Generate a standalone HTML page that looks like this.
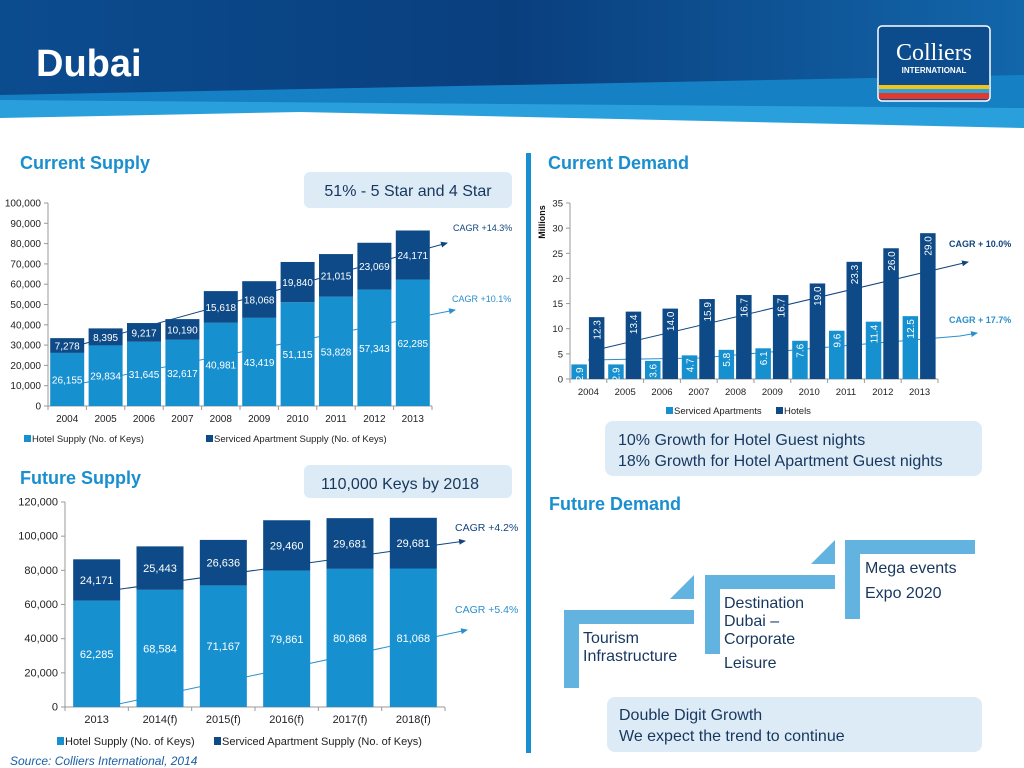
<!DOCTYPE html>
<html><head><meta charset="utf-8"><style>
body{margin:0;width:1024px;height:768px;overflow:hidden;background:#fff;font-family:"Liberation Sans",sans-serif}
svg{display:block}
</style></head><body>
<svg id="s" width="1024" height="768" viewBox="0 0 1024 768" font-family="Liberation Sans, sans-serif">
<defs>
<linearGradient id="hg" x1="0" y1="0" x2="1" y2="0"><stop offset="0" stop-color="#0b4c8f"/><stop offset="0.5" stop-color="#0a3f7e"/><stop offset="1" stop-color="#1266aa"/></linearGradient>
<marker id="ad" markerWidth="8" markerHeight="8" refX="6" refY="3" orient="auto"><path d="M0,0 L7,3 L0,6 Z" fill="#12457e"/></marker>
<marker id="al" markerWidth="8" markerHeight="8" refX="6" refY="3" orient="auto"><path d="M0,0 L7,3 L0,6 Z" fill="#2a8fcc"/></marker>
</defs>
<g>
<rect x="0" y="0" width="1024" height="130" fill="url(#hg)"/>
<polygon points="0,95 1024,75 1024,130 0,130" fill="#1580c4"/>
<polygon points="0,100 1024,108 1024,130 0,130" fill="#29a0dc"/>
<polygon points="0,118 300,112 1024,128 1024,140 0,140" fill="#fff"/>
<text x="36" y="76" fill="#fff" font-size="38" font-weight="bold">Dubai</text>
<g>
<rect x="878" y="26" width="112" height="75" rx="4" fill="#0d4c8c" stroke="#fff" stroke-width="1.5"/>
<text x="934" y="60" fill="#fff" font-size="24" font-family="Liberation Serif, serif" text-anchor="middle">Colliers</text>
<text x="934" y="73" fill="#fff" font-size="8" text-anchor="middle" font-weight="bold">INTERNATIONAL</text>
<rect x="879" y="85" width="110" height="4" fill="#f2c41a"/><rect x="879" y="89" width="110" height="4" fill="#2ea3d9"/><rect x="879" y="93" width="110" height="6" fill="#e0392f"/>
</g></g>
<rect x="526" y="153" width="5" height="600" fill="#1a8fd0"/>
<g font-weight="bold" font-size="18" fill="#1a8fd0">
<text x="20" y="169">Current Supply</text>
<text x="20" y="484">Future Supply</text>
<text x="548" y="169">Current Demand</text>
<text x="549" y="510">Future Demand</text>
</g>
<g font-size="16" fill="#17375e">
<rect x="304" y="172" width="208" height="36" rx="6" fill="#dcebf6"/>
<text x="408" y="196" text-anchor="middle">51% - 5 Star and 4 Star</text>
<rect x="304" y="465" width="208" height="33" rx="6" fill="#dcebf6"/>
<text x="400" y="489" text-anchor="middle">110,000 Keys by 2018</text>
<rect x="605" y="421" width="377" height="55" rx="8" fill="#dcebf6"/>
<text x="618" y="445">10% Growth for Hotel Guest nights</text>
<text x="618" y="466">18% Growth for Hotel Apartment Guest nights</text>
<rect x="607" y="697" width="375" height="55" rx="8" fill="#dcebf6"/>
<text x="619" y="720">Double Digit Growth</text>
<text x="619" y="741">We expect the trend to continue</text>
</g>
<g fill="#62b3e0">
<rect x="564" y="610" width="15" height="78"/><rect x="564" y="610" width="130" height="14"/><polygon points="670,599 694,575 694,599"/>
<rect x="705" y="575" width="15" height="79"/><rect x="705" y="575" width="130" height="14"/><polygon points="811,564 835,540 835,564"/>
<rect x="845" y="540" width="15" height="79"/><rect x="845" y="540" width="130" height="14"/>
</g>
<g font-size="16" fill="#17375e">
<text x="583" y="643">Tourism</text><text x="583" y="661">Infrastructure</text>
<text x="724" y="608">Destination</text><text x="724" y="626">Dubai –</text><text x="724" y="644">Corporate</text><text x="724" y="668">Leisure</text>
<text x="865" y="573">Mega events</text><text x="865" y="598">Expo 2020</text>
</g>
<text x="10" y="765" font-size="12" font-style="italic" fill="#1a5fa8">Source: Colliers International, 2014</text>
<g id="c1"></g>
<g id="c2"></g>
<g id="c3"></g>
</svg>
<script>
const years1=["2004","2005","2006","2007","2008","2009","2010","2011","2012","2013"];
const hotel1=[26155,29834,31645,32617,40981,43419,51115,53828,57343,62285];
const apt1=[7278,8395,9217,10190,15618,18068,19840,21015,23069,24171];
const ticks1=[0,10000,20000,30000,40000,50000,60000,70000,80000,90000,100000];
const years2=["2004","2005","2006","2007","2008","2009","2010","2011","2012","2013"];
const svcApt2=[2.9,2.9,3.6,4.7,5.8,6.1,7.6,9.6,11.4,12.5];
const hotels2=[12.3,13.4,14.0,15.9,16.7,16.7,19.0,23.3,26.0,29.0];
const ticks2=[0,5,10,15,20,25,30,35];
const years3=["2013","2014(f)","2015(f)","2016(f)","2017(f)","2018(f)"];
const hotel3=[62285,68584,71167,79861,80868,81068];
const apt3=[24171,25443,26636,29460,29681,29681];
const ticks3=[0,20000,40000,60000,80000,100000,120000];
const LIGHT="#1790d0",DARK="#0d4a87",NS="http://www.w3.org/2000/svg";
const fmt=v=>v.toLocaleString("en-US");
function mk(p,tag,a,txt){const e=document.createElementNS(NS,tag);for(const k in a)e.setAttribute(k,a[k]);if(txt!==undefined)e.textContent=txt;p.appendChild(e);return e;}
function axes(g,x0,x1,y0,yS,ticks,cats,fs,lblY,tickFmt){
  mk(g,"line",{x1:x0,y1:y0,x2:x1,y2:y0,stroke:"#999"});
  const top=yS(ticks[ticks.length-1]);
  mk(g,"line",{x1:x0,y1:y0,x2:x0,y2:top,stroke:"#999"});
  ticks.forEach(t=>{const y=yS(t);mk(g,"line",{x1:x0-4,y1:y,x2:x0,y2:y,stroke:"#999"});
    const e=mk(g,"text",{x:x0-7,y:y+3.5,"font-size":fs,"text-anchor":"end",fill:"#222"},tickFmt(t));
    
    });
  const w=(x1-x0)/cats.length;
  cats.forEach((c,i)=>{mk(g,"line",{x1:x0+w*(i+1),y1:y0,x2:x0+w*(i+1),y2:y0+4,stroke:"#999"});
    const e=mk(g,"text",{x:x0+w*(i+.5),y:lblY,"font-size":fs,"text-anchor":"middle",fill:"#222"},c);
    
    });
  mk(g,"line",{x1:x0,y1:y0,x2:x0,y2:y0+4,stroke:"#999"});
  return w;
}
function stacked(g,x0,x1,y0,max,h,cats,a,b,bw,fs){
  const yS=v=>y0-v/max*h, w=(x1-x0)/cats.length;
  cats.forEach((c,i)=>{const cx=x0+w*(i+.5);
    const r1=mk(g,"rect",{x:cx-bw/2,y:yS(a[i]),width:bw,height:y0-yS(a[i]),fill:LIGHT});
    
    
    const r2=mk(g,"rect",{x:cx-bw/2,y:yS(a[i]+b[i]),width:bw,height:yS(a[i])-yS(a[i]+b[i]),fill:DARK});
    
    
    mk(g,"text",{x:cx,y:yS(a[i]/2)+4,"font-size":fs,"text-anchor":"middle",fill:"#fff"},fmt(a[i]));
    mk(g,"text",{x:cx,y:yS(a[i]+b[i]/2)+4,"font-size":fs,"text-anchor":"middle",fill:"#fff"},fmt(b[i]));
  });
  return yS;
}
// chart 1
(function(){const g=document.getElementById("c1");
 const x0=48,x1=432,y0=406,max=100000,h=203;const yS=v=>y0-v/max*h;
 mk(g,"line",{x1:83,y1:344,x2:447,y2:243,stroke:"#12457e","marker-end":"url(#ad)"});
 mk(g,"line",{x1:83,y1:383,x2:455,y2:310,stroke:"#2a8fcc","marker-end":"url(#al)"});
 axes(g,x0,x1,y0,yS,ticks1,years1,10,422,fmt);
 stacked(g,x0,x1,y0,max,h,years1,hotel1,apt1,34,10);
 mk(g,"text",{x:453,y:231,"font-size":9,fill:"#12457e"},"CAGR +14.3%");
 mk(g,"text",{x:452,y:302,"font-size":9,fill:"#2a8fcc"},"CAGR +10.1%");
 mk(g,"rect",{x:24,y:435,width:7,height:7,fill:LIGHT});mk(g,"text",{x:32,y:442,"font-size":9.5,fill:"#222"},"Hotel Supply (No. of Keys)");
 mk(g,"rect",{x:206,y:435,width:7,height:7,fill:DARK});mk(g,"text",{x:214,y:442,"font-size":9.5,fill:"#222"},"Serviced Apartment Supply (No. of Keys)");
})();
// chart 3
(function(){const g=document.getElementById("c3");
 const x0=65,x1=445,y0=707,max=120000,h=205;const yS=v=>y0-v/max*h;
 mk(g,"line",{x1:114,y1:590,x2:465,y2:541,stroke:"#12457e","marker-end":"url(#ad)"});
 mk(g,"line",{x1:114,y1:705,x2:467,y2:630,stroke:"#2a8fcc","marker-end":"url(#al)"});
 axes(g,x0,x1,y0,yS,ticks3,years3,11,723,fmt);
 stacked(g,x0,x1,y0,max,h,years3,hotel3,apt3,47,11);
 mk(g,"text",{x:455,y:531,"font-size":10.5,fill:"#12457e"},"CAGR +4.2%");
 mk(g,"text",{x:455,y:613,"font-size":10.5,fill:"#2a8fcc"},"CAGR +5.4%");
 mk(g,"rect",{x:57,y:737,width:7,height:8,fill:LIGHT});mk(g,"text",{x:65,y:745,"font-size":11,fill:"#222"},"Hotel Supply (No. of Keys)");
 mk(g,"rect",{x:214,y:737,width:7,height:8,fill:DARK});mk(g,"text",{x:222,y:745,"font-size":11,fill:"#222"},"Serviced Apartment Supply (No. of Keys)");
})();
// chart 2
(function(){const g=document.getElementById("c2");
 const x0=570,x1=938,y0=379,max=35,h=176;const yS=v=>y0-v/max*h;
 mk(g,"line",{x1:600,y1:349,x2:968,y2:262,stroke:"#12457e","marker-end":"url(#ad)"});
 mk(g,"path",{d:"M588,360 L700,358 L960,336 L977,333",fill:"none",stroke:"#2a8fcc","marker-end":"url(#al)"});
 axes(g,x0,x1,y0,yS,ticks2,years2,9.5,395,t=>String(t));
 const w=(x1-x0)/years2.length;
 years2.forEach((c,i)=>{const cx=x0+w*(i+.5);
  [[svcApt2[i],cx-17,LIGHT,'bar-serviced-'],[hotels2[i],cx+0.5,DARK,'bar-hotels-']].forEach(([v,x,col,nm])=>{
   const r=mk(g,"rect",{x:x,y:yS(v),width:15.5,height:y0-yS(v),fill:col});
   
   
   mk(g,"text",{x:0,y:0,"font-size":10,fill:"#fff","text-anchor":"end",transform:`translate(${x+11.5},${yS(v)+3}) rotate(-90)`},v.toFixed(1));
  });
 });
 mk(g,"text",{x:949,y:247,"font-size":9,"font-weight":"bold",fill:"#12457e"},"CAGR + 10.0%");
 mk(g,"text",{x:949,y:323,"font-size":9,"font-weight":"bold",fill:"#2a8fcc"},"CAGR + 17.7%");
 mk(g,"text",{x:0,y:0,"font-size":9,"font-weight":"bold",fill:"#111","text-anchor":"middle",transform:"translate(545,222) rotate(-90)"},"Millions");
 mk(g,"rect",{x:666,y:407,width:7,height:7,fill:LIGHT});mk(g,"text",{x:674,y:414,"font-size":9.5,fill:"#222"},"Serviced Apartments");
 mk(g,"rect",{x:776,y:407,width:7,height:7,fill:DARK});mk(g,"text",{x:784,y:414,"font-size":9.5,fill:"#222"},"Hotels");
})();
</script>
</body></html>
